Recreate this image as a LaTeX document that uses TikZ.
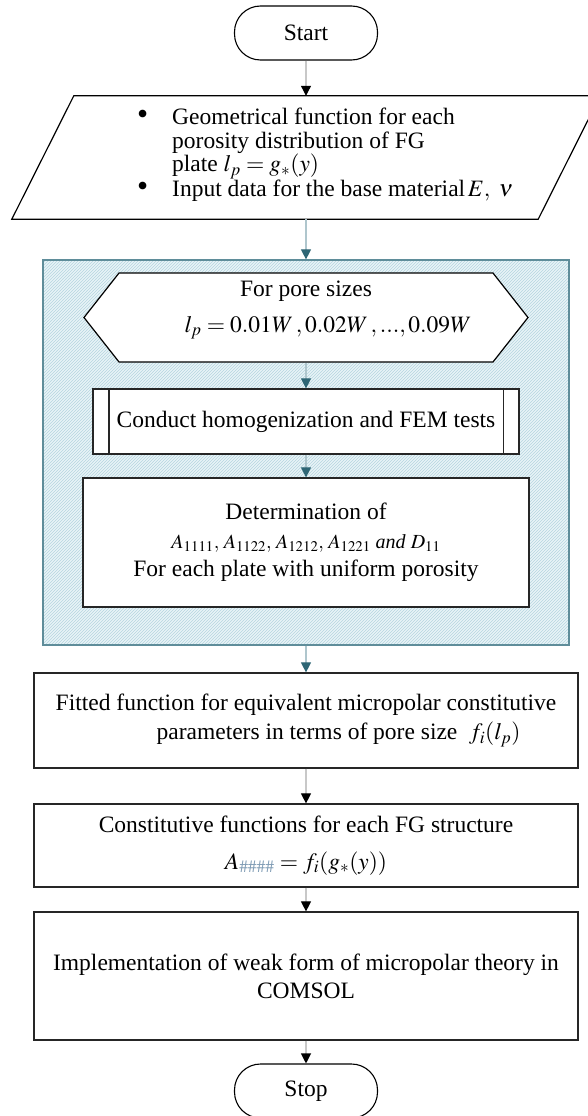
\documentclass[tikz,border=0pt]{standalone}
\usepackage{graphicx}
\usepackage{mathptmx}
\usepackage[no-math]{fontspec}
\setmainfont{Liberation Serif}
\usetikzlibrary{shapes.symbols,arrows.meta,patterns}
\definecolor{hatchbg}{HTML}{E9F4F7}
\definecolor{hatchln}{HTML}{B5D5DF}
\definecolor{loopedge}{HTML}{5F8D9A}
\definecolor{tealhead}{HTML}{2E6675}
\definecolor{teallink}{HTML}{AFC6CD}
\definecolor{graylink}{HTML}{C8C8C8}
\definecolor{hashcol}{HTML}{7F9CB5}
\newcommand{\bigbul}{\makebox[35pt][l]{\scalebox{1.35}{\textbullet}}}
\begin{document}
\begin{tikzpicture}[
    x=1pt, y=-1pt,
    font=\fontsize{23.5}{23.5}\selectfont,
    terminal/.style={rectangle, draw, fill=white, rounded corners=26pt, minimum width=143pt, minimum height=54pt, line width=1.1pt},
    loopframe/.style={rectangle, draw=loopedge, line width=1.2pt, preaction={fill=hatchbg}, pattern=north east lines, pattern color=hatchln, minimum width=526pt, minimum height=385pt},
    forbox/.style={signal, signal to=west and east, signal pointer angle=103.6, draw, fill=white, line width=1.2pt, minimum width=444pt, minimum height=89pt, inner sep=0pt},
    procbox/.style={rectangle, draw=black!85, fill=white, line width=1.2pt, align=center, inner sep=0pt},
    link/.style={graylink, line width=1.1pt, -{Triangle[width=10pt,length=10pt,color=black]}},
    looplink/.style={teallink, line width=1.1pt, -{Triangle[width=10pt,length=10pt,color=tealhead]}}
  ]
    \useasboundingbox (0,0) rectangle (588,1116);

    % Start and input data
    \node[terminal] (start) at (306,33) {Start};
    \node[minimum width=526pt, minimum height=123pt, inner sep=0pt] (input) at (275,157.5) {};
    \draw[line width=1.2pt, fill=white] (input.south west) -- ([xshift=62pt]input.north west)
      -- ([xshift=62pt]input.north east) -- (input.south east) -- cycle;
    \node[anchor=west, align=left, inner sep=0pt] (inputtxt) at (137,155) {%
      \bigbul Geometrical function for each\\
      \hspace*{35pt}porosity distribution of FG\\
      \hspace*{35pt}plate $l_p = g_*(y)$\\
      \bigbul Input data for the base material$\,E,\ \nu$};

    % Loop over pore sizes
    \node[loopframe] (loopbox) at (306,452.5) {};
    \node[forbox] (poresz) at (306,317.5) {};
    \node[align=center, inner sep=0pt] (poresztxt) at (306,310) {For pore sizes\\[12.5pt]
      \hspace*{44pt}$l_p = 0.01W\,,0.02W\,,...,0.09W$};
    \node[procbox, minimum width=426pt, minimum height=65pt] (homog) at (306,421.5) {Conduct homogenization and FEM tests};
    \draw[line width=1.2pt, black!85] ([xshift=16.5pt]homog.north west) -- ([xshift=16.5pt]homog.south west)
      ([xshift=-16.5pt]homog.north east) -- ([xshift=-16.5pt]homog.south east);
    \node[procbox, minimum width=446pt, minimum height=129pt] (determ) at (306,542.5) {Determination of\\[5pt]
      {\fontsize{20}{23.5}\selectfont $A_{1111},\, A_{1122},\, A_{1212},\, A_{1221}$ \textit{and} $D_{11}$}\\[5pt]
      For each plate with uniform porosity};

    % Fitted and constitutive functions
    \node[procbox, minimum width=544pt, minimum height=95pt] (fitted) at (306,720.5) {Fitted function for equivalent micropolar constitutive\\[5.5pt]
      \hspace*{65pt}parameters in terms of pore size \ $f_i(l_p)$};
    \node[procbox, minimum width=544pt, minimum height=83pt] (constfn) at (306,845.5) {Constitutive functions for each FG structure\\[13.5pt]
      $A_{\textcolor{hashcol}{\#\#\#\#}} = f_i(g_*(y))$};
    \node[procbox, minimum width=544pt, minimum height=128pt] (implem) at (306,976) {Implementation of weak form of micropolar theory in\\[4.5pt]
      COMSOL};
    \node[terminal] (stop) at (306,1091) {Stop};

    % Links
    \draw[link] (start) -- (start |- input.north);
    \draw[looplink] (start |- input.south) -- (loopbox.north);
    \draw[looplink] (poresz.south) -- (homog.north);
    \draw[looplink] (homog.south) -- (determ.north);
    \draw[looplink] (loopbox.south) -- (fitted.north);
    \draw[link] (fitted) -- (constfn);
    \draw[link] (constfn) -- (implem);
    \draw[link] (implem) -- (stop);
\end{tikzpicture}
\end{document}
